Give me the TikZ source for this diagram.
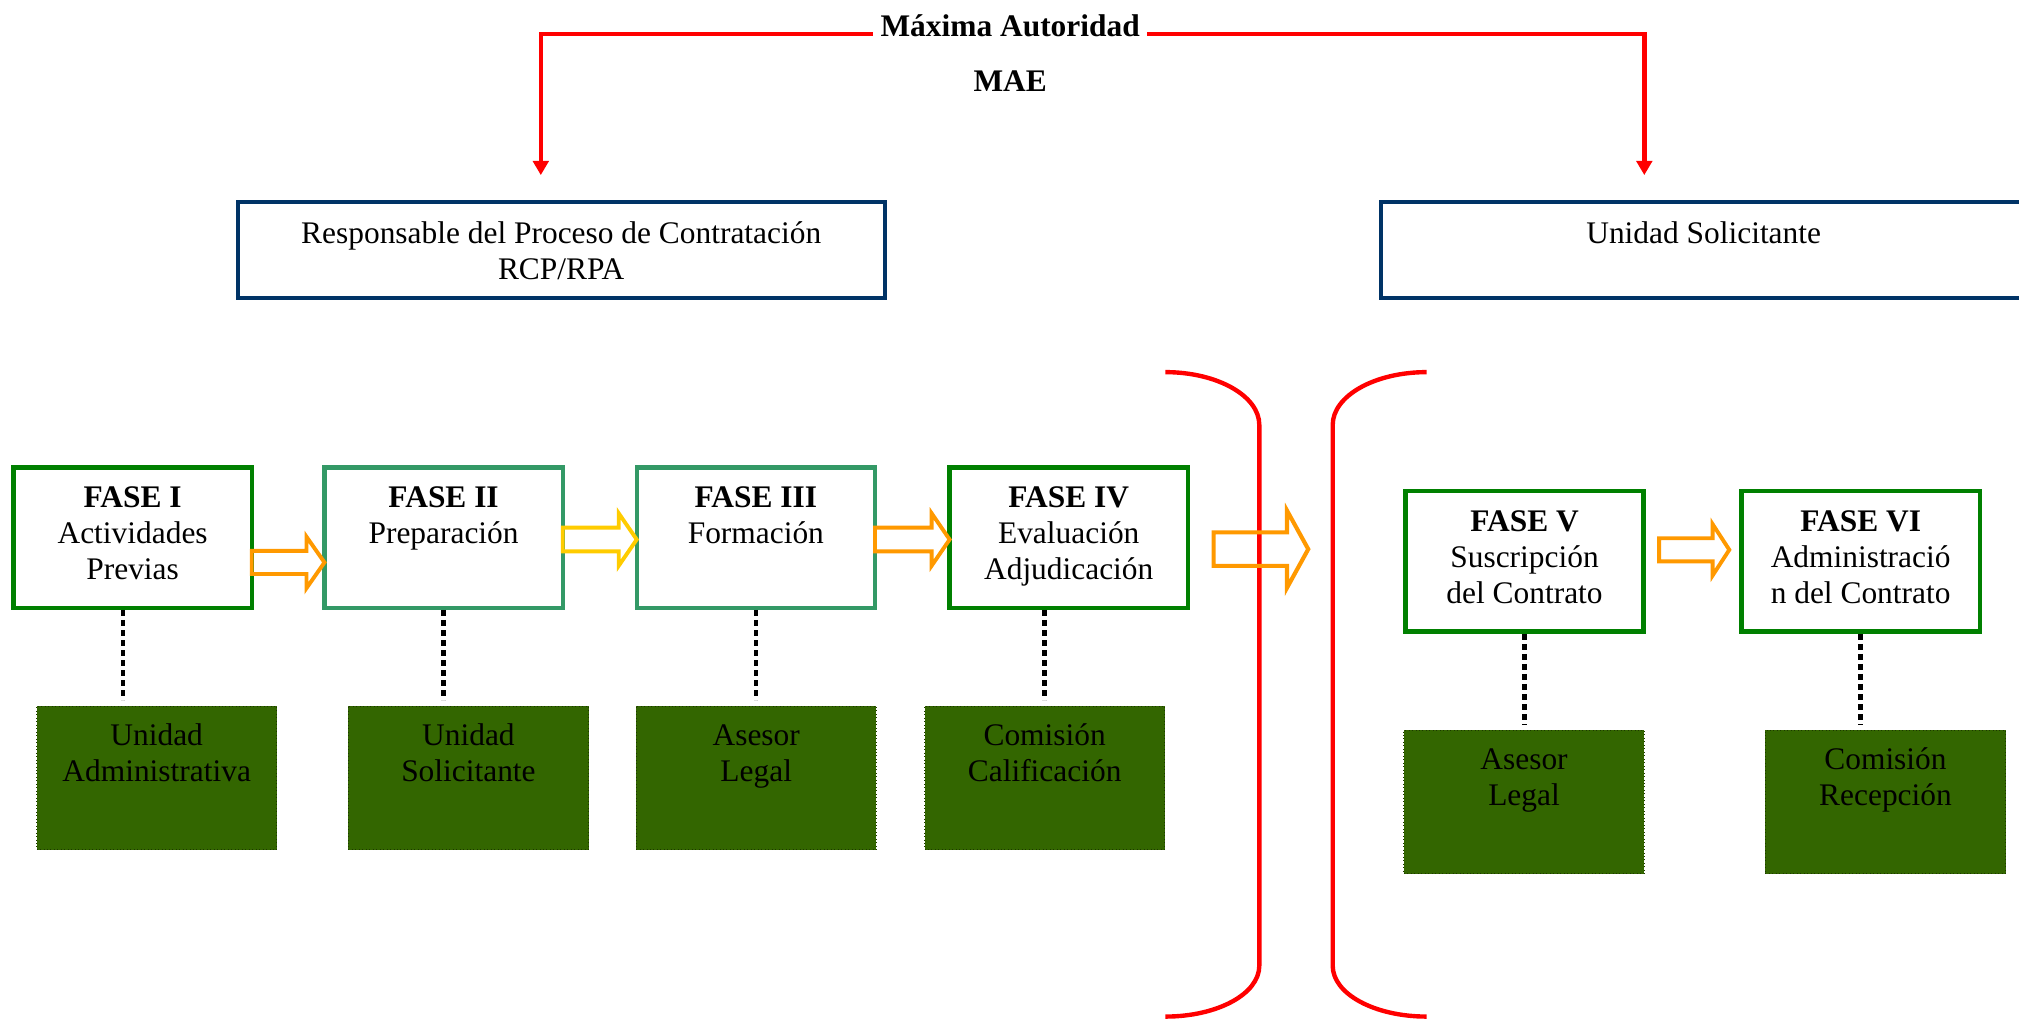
\documentclass[tikz,border=0pt]{standalone}
\usepackage{fontspec}
\setmainfont{Liberation Serif}
\usetikzlibrary{arrows.meta,calc}

\definecolor{maered}{RGB}{255,0,0}
\definecolor{navybox}{RGB}{0,51,102}
\definecolor{phasegreen}{RGB}{0,128,0}
\definecolor{tealgreen}{RGB}{51,153,102}
\definecolor{olivefill}{RGB}{51,102,0}
\definecolor{flowor}{RGB}{255,153,0}
\definecolor{flowyel}{RGB}{255,204,0}

\tikzset{
  txt/.style={font=\fontsize{12.2}{14.1}\selectfont, inner sep=0pt, outer sep=0pt, align=center},
  redline/.style={draw=maered, line width=1.7pt},
  redarrow/.style={redline, -{Triangle[length=5.5pt,width=6pt]}},
  headbox/.style={draw=navybox, line width=1.55pt, minimum height=37.4pt,
    anchor=north west, inner sep=0pt, outer sep=0pt},
  phasebox/.style={draw=phasegreen, line width=1.7pt, minimum width=92.5pt,
    minimum height=54.5pt, anchor=north west, inner sep=0pt, outer sep=0pt},
  actorbox/.style={fill=olivefill, draw=olivefill!55!black, densely dotted,
    line width=0.35pt, minimum width=93.3pt, minimum height=55.85pt,
    anchor=north west, inner sep=0pt, outer sep=0pt},
  dotlink/.style={line width=1.8pt, dash pattern=on 2.3pt off 1.6pt,
    shorten <=0.85pt, shorten >=2.2pt},
  flowarrow/.style={line width=1.5pt, line join=miter},
}

% hollow block arrow: style, start coordinate, tip coordinate,
% shaft half-height, head half-height, head length
\newcommand\hollowarrow[6]{%
  \draw[flowarrow,#1] let \p1=(#2), \p2=(#3) in
    (\x1,\y1+#4) -- (\x2-#6,\y1+#4) -- (\x2-#6,\y1+#5) -- (\x2,\y1)
    -- (\x2-#6,\y1-#5) -- (\x2-#6,\y1-#4) -- (\x1,\y1-#4) -- cycle;}

\begin{document}
\begin{tikzpicture}[x=0.5pt,y=-0.5pt]
\fill[white] (0,0) rectangle (1568,791);
\useasboundingbox (0,0) rectangle (1568,791);

% authority title
\node[txt, anchor=base, inner xsep=3pt] (tit) at (784.5,28) {\bfseries Máxima Autoridad};
\node[txt, anchor=base] (mae) at (784.5,71) {\bfseries MAE};

% responsible units
\node[headbox, minimum width=251.15pt] (rcp) at (184.7,156.6) {};
\node[headbox, minimum width=250.5pt] (usol) at (1072.6,156.6) {};
\node[txt, anchor=north] (rcpt) at (rcp.north)
  {\rule{0pt}{16.2pt}Responsable del Proceso de Contratación\\RCP/RPA};
\node[txt, anchor=north] (usolt) at (usol.north)
  {\rule{0pt}{16.2pt}Unidad Solicitante};

% authority connectors
\coordinate (redY) at (0,26.3);
\coordinate (tipL) at (420,136);
\coordinate (tipR) at (1277,136);
\draw[redarrow] (tit.west |- redY) -| (tipL);
\draw[redarrow] (tit.east |- redY) -| (tipR);

% brackets separating the two stages
\draw[redline] (905,289) .. controls (945.3,289) and (978,307.4) .. (978,330)
  -- (978,750) .. controls (978,772) and (945.3,789.5) .. (905,789.5);
\draw[redline] (1108,289) .. controls (1067.7,289) and (1035,307.4) .. (1035,330)
  -- (1035,750) .. controls (1035,772) and (1067.7,789.5) .. (1108,789.5);

% phases
\node[phasebox] (p1) at (10.5,363) {};
\node[phasebox, draw=tealgreen] (p2) at (252,363) {};
\node[phasebox, draw=tealgreen] (p3) at (494.5,363) {};
\node[phasebox] (p4) at (737.5,363) {};
\node[phasebox] (p5) at (1091.5,381.5) {};
\node[phasebox] (p6) at (1352.5,381.5) {};

\node[txt, anchor=north] (p1t) at (p1.north)
  {\rule{0pt}{15.5pt}\textbf{FASE I}\\Actividades\\Previas};
\node[txt, anchor=north] (p2t) at (p2.north)
  {\rule{0pt}{15.5pt}\textbf{FASE II}\\Preparación};
\node[txt, anchor=north] (p3t) at (p3.north)
  {\rule{0pt}{15.5pt}\textbf{FASE III}\\Formación};
\node[txt, anchor=north] (p4t) at (p4.north)
  {\rule{0pt}{15.5pt}\textbf{FASE IV}\\Evaluación\\Adjudicación};
\node[txt, anchor=north] (p5t) at (p5.north)
  {\rule{0pt}{15.5pt}\textbf{FASE V}\\Suscripción\\del Contrato};
\node[txt, anchor=north] (p6t) at (p6.north)
  {\rule{0pt}{15.5pt}\textbf{FASE VI}\\Administració\\n del Contrato};

% units in charge of each phase
\node[actorbox] (g1) at (28.4,548.3) {};
\node[actorbox] (g2) at (270.5,548.3) {};
\node[actorbox] (g3) at (494,548.3) {};
\node[actorbox] (g4) at (718,548.3) {};
\node[actorbox] (g5) at (1090.3,567) {};
\node[actorbox] (g6) at (1371,567) {};

\node[txt, anchor=north] (g1t) at (g1.north) {\rule{0pt}{15.2pt}Unidad\\Administrativa};
\node[txt, anchor=north] (g2t) at (g2.north) {\rule{0pt}{15.2pt}Unidad\\Solicitante};
\node[txt, anchor=north] (g3t) at (g3.north) {\rule{0pt}{15.2pt}Asesor\\Legal};
\node[txt, anchor=north] (g4t) at (g4.north) {\rule{0pt}{15.2pt}Comisión\\Calificación};
\node[txt, anchor=north] (g5t) at (g5.north) {\rule{0pt}{15.2pt}Asesor\\Legal};
\node[txt, anchor=north] (g6t) at (g6.north) {\rule{0pt}{15.2pt}Comisión\\Recepción};

% dotted links phase -> unit
\coordinate (d1) at (95.4,0);
\draw[dotlink] (p1.south -| d1) -- (g1.north -| d1);
\draw[dotlink] (p2.south) -- (p2.south |- g2.north);
\draw[dotlink] (p3.south) -- (p3.south |- g3.north);
\draw[dotlink] (p4.south -| g4.north) -- (g4.north);
\draw[dotlink] (p5.south) -- (p5.south |- g5.north);
\draw[dotlink] (p6.south) -- (p6.south |- g6.north);

% flow arrows between phases
\coordinate (yA) at (0,436.8);
\coordinate (yB) at (0,419);
\coordinate (a1s) at (p1.east |- yA);
\coordinate (a1e) at (p2.west |- yA);
\coordinate (a2s) at (p2.east |- yB);
\coordinate (a2e) at (p3.west |- yB);
\coordinate (a3s) at (p3.east |- yB);
\coordinate (a3e) at (p4.west |- yB);
\coordinate (a4s) at (942.5,426.5);
\coordinate (a4e) at (1016,426.5);
\coordinate (a5s) at (1288.5,427);
\coordinate (a5e) at (1343,427);
\hollowarrow{draw=flowor}{a1s}{a1e}{4.5pt}{10pt}{7pt}
\hollowarrow{draw=flowyel}{a2s}{a2e}{4.6pt}{10.2pt}{7pt}
\hollowarrow{draw=flowor}{a3s}{a3e}{4.6pt}{10.2pt}{7pt}
\hollowarrow{draw=flowor, line width=1.6pt}{a4s}{a4e}{6.5pt}{15pt}{8.25pt}
\hollowarrow{draw=flowor}{a5s}{a5e}{4.5pt}{10pt}{6.5pt}
\end{tikzpicture}
\end{document}
